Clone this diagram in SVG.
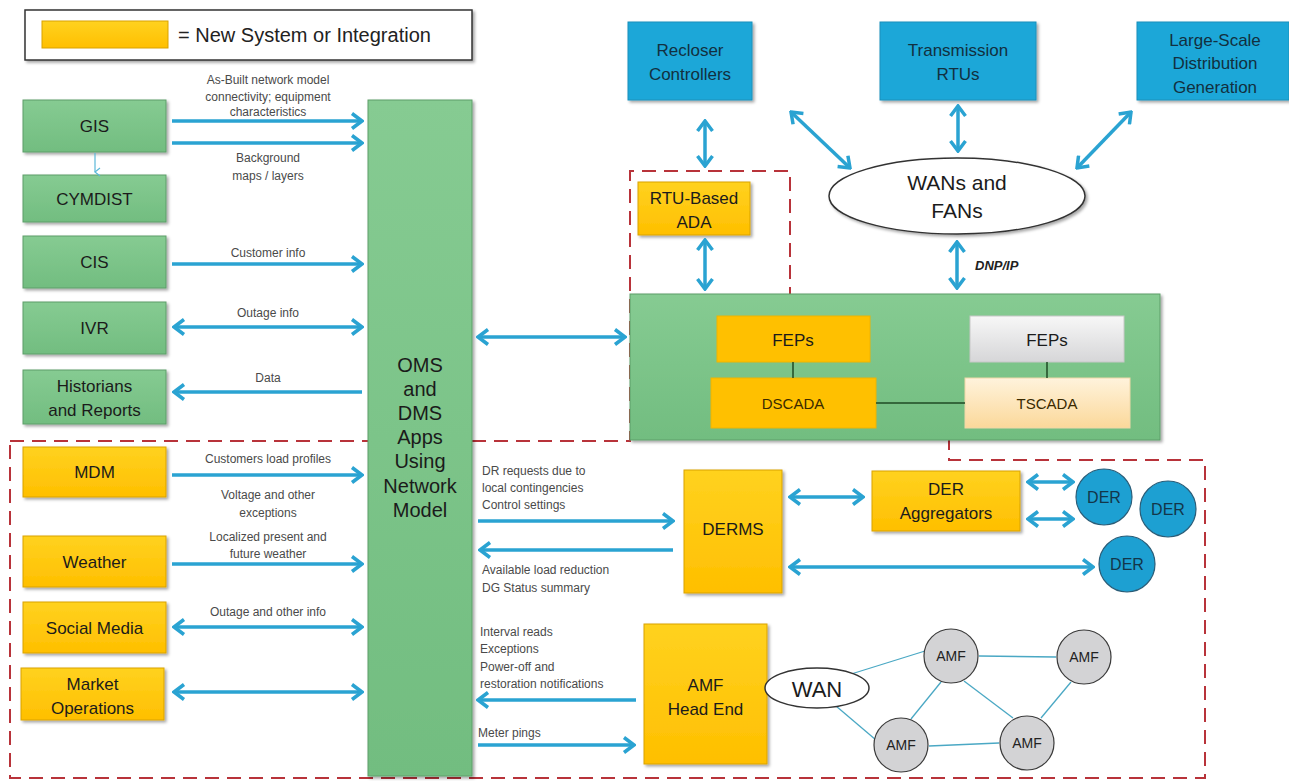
<svg xmlns="http://www.w3.org/2000/svg" width="1289" height="781" viewBox="0 0 1289 781">
<defs>
<filter id="sh" x="-10%" y="-10%" width="130%" height="130%"><feDropShadow dx="2" dy="2" stdDeviation="1.5" flood-color="#000" flood-opacity="0.35"/></filter>
<linearGradient id="yg" x1="0" y1="0" x2="0" y2="1"><stop offset="0" stop-color="#ffd21f"/><stop offset="1" stop-color="#ffbf00"/></linearGradient>
<linearGradient id="gg" x1="0" y1="0" x2="0" y2="1"><stop offset="0" stop-color="#86cb92"/><stop offset="1" stop-color="#72bd80"/></linearGradient>
<linearGradient id="tg" x1="0" y1="0" x2="0" y2="1"><stop offset="0" stop-color="#fff3dc"/><stop offset="1" stop-color="#fbd89a"/></linearGradient>
<linearGradient id="fg" x1="0" y1="0" x2="0" y2="1"><stop offset="0" stop-color="#f7f7f7"/><stop offset="1" stop-color="#d6d6d8"/></linearGradient>
<marker id="ah" markerUnits="userSpaceOnUse" viewBox="0 0 14 18" markerWidth="14" markerHeight="18" refX="12" refY="9" orient="auto-start-reverse"><path d="M2,1.5 L12,9 L2,16.5" fill="none" stroke="#2aa3d2" stroke-width="3.5" stroke-linejoin="miter"/></marker>
<marker id="ahs" markerUnits="userSpaceOnUse" viewBox="0 0 10 10" markerWidth="10" markerHeight="10" refX="5" refY="8" orient="auto"><path d="M1,3 L5,8 L9,3" fill="none" stroke="#5bb8d8" stroke-width="1.2"/></marker>
</defs>
<style>
text{font-family:"Liberation Sans",Arial,sans-serif}
.g{fill:url(#gg);stroke:#5d9e68;stroke-width:1;filter:url(#sh)}
.y{fill:url(#yg);stroke:#d9a200;stroke-width:1;filter:url(#sh)}
.b{fill:#1da7d8;stroke:#1890bb;stroke-width:1;filter:url(#sh)}
.bt{font-size:17px;fill:#1b1b1b;text-anchor:middle}
.ct{font-size:17px;fill:#123040;text-anchor:middle}
.lb{font-size:12px;fill:#4a4a4a;text-anchor:middle}
.ll{font-size:12px;fill:#4a4a4a}
.ar{stroke:#2aa3d2;stroke-width:3.5;fill:none}
.one{marker-end:url(#ah)}
.two{marker-start:url(#ah);marker-end:url(#ah)}
.dash{fill:none;stroke:#b8333a;stroke-width:2;stroke-dasharray:14 8}
.thin{stroke:#4aa8c4;stroke-width:1.3;fill:none}
.amf{fill:#d3d3d5;stroke:#3a3a3a;stroke-width:1.2}
.der{fill:#1da0d2;stroke:#2a5d78;stroke-width:1.2}
.dt{font-size:16px;fill:#13364a;text-anchor:middle}
</style>

<g id="legend">
<rect x="25" y="10" width="447" height="50" fill="#fff" stroke="#333" stroke-width="1.5" filter="url(#sh)"/>
<rect x="42" y="21" width="126" height="27" fill="url(#yg)" stroke="#d9a200"/>
<text x="178" y="42" font-size="20" fill="#222">= New System or Integration</text>
</g>

<g id="red-boundary">
<path class="dash" d="M10,441 L630,441 L630,171 L790,171 L790,300 L949,300 L949,460 L1205,460 L1205,778 L10,778 Z"/>
</g>

<g id="gis"><rect class="g" x="23" y="100" width="143" height="52"/><text class="bt" x="94.5" y="132">GIS</text></g>
<g id="cymdist"><rect class="g" x="23" y="175" width="143" height="47"/><text class="bt" x="94.5" y="205">CYMDIST</text></g>
<g id="cis"><rect class="g" x="23" y="236" width="143" height="52"/><text class="bt" x="94.5" y="268">CIS</text></g>
<g id="ivr"><rect class="g" x="23" y="302" width="143" height="52"/><text class="bt" x="94.5" y="334">IVR</text></g>
<g id="historians"><rect class="g" x="23" y="370" width="143" height="54"/><text class="bt" x="94.5" y="392">Historians</text><text class="bt" x="94.5" y="416">and Reports</text></g>

<g id="mdm"><rect class="y" x="23" y="447" width="143" height="50"/><text class="bt" x="94.5" y="478">MDM</text></g>
<g id="weather"><rect class="y" x="23" y="536" width="143" height="51"/><text class="bt" x="94.5" y="568">Weather</text></g>
<g id="social"><rect class="y" x="23" y="602" width="143" height="51"/><text class="bt" x="94.5" y="634">Social Media</text></g>
<g id="market"><rect class="y" x="21" y="668" width="143" height="52"/><text class="bt" x="92.5" y="690">Market</text><text class="bt" x="92.5" y="714">Operations</text></g>

<g id="oms"><rect class="g" x="368" y="100" width="104" height="676"/>
<text font-size="20" fill="#1b1b1b" text-anchor="middle"><tspan x="420" y="372">OMS</tspan><tspan x="420" y="396">and</tspan><tspan x="420" y="420">DMS</tspan><tspan x="420" y="444">Apps</tspan><tspan x="420" y="468">Using</tspan><tspan x="420" y="493">Network</tspan><tspan x="420" y="517">Model</tspan></text></g>

<g id="recloser"><rect class="b" x="628" y="22" width="124" height="78"/><text class="ct" x="690" y="56">Recloser</text><text class="ct" x="690" y="80">Controllers</text></g>
<g id="trtu"><rect class="b" x="880" y="22" width="156" height="78"/><text class="ct" x="958" y="56">Transmission</text><text class="ct" x="958" y="80">RTUs</text></g>
<g id="lsdg"><rect class="b" x="1137" y="22" width="152" height="78"/><text class="ct" x="1215" y="46">Large-Scale</text><text class="ct" x="1215" y="69">Distribution</text><text class="ct" x="1215" y="93">Generation</text></g>

<g id="wans"><ellipse cx="957" cy="196" rx="128" ry="38" fill="#fff" stroke="#333" stroke-width="1.5" filter="url(#sh)"/><text x="957" y="190" font-size="21" fill="#1b1b1b" text-anchor="middle">WANs and</text><text x="957" y="218" font-size="21" fill="#1b1b1b" text-anchor="middle">FANs</text></g>

<g id="rtuada"><rect class="y" x="638" y="182" width="112" height="53"/><text class="bt" x="694" y="204">RTU-Based</text><text class="bt" x="694" y="228">ADA</text></g>

<g id="scada"><rect class="g" x="630" y="294" width="530" height="146"/>
<rect x="717" y="316" width="153" height="46" fill="#ffc000" stroke="#f0b400"/><text class="bt" x="793" y="346" font-size="17">FEPs</text>
<rect x="711" y="378" width="165" height="50" fill="#ffc000" stroke="#f0b400"/><text x="793" y="409" font-size="15" fill="#3a2a00" text-anchor="middle">DSCADA</text>
<rect x="970" y="316" width="154" height="46" fill="url(#fg)" stroke="#c8c8c8"/><text class="bt" x="1047" y="346">FEPs</text>
<rect x="965" y="378" width="165" height="50" fill="url(#tg)" stroke="#f0d8a8"/><text x="1047" y="409" font-size="15" fill="#3a2a00" text-anchor="middle">TSCADA</text>
<line x1="793" y1="362" x2="793" y2="378" stroke="#1f4a24" stroke-width="1.5"/>
<line x1="1047" y1="362" x2="1047" y2="378" stroke="#1f4a24" stroke-width="1.5"/>
<line x1="876" y1="403" x2="965" y2="403" stroke="#1f4a24" stroke-width="1.5"/>
</g>

<g id="derms"><rect class="y" x="684" y="470" width="98" height="123"/><text class="bt" x="733" y="535">DERMS</text></g>
<g id="deragg"><rect class="y" x="872" y="471" width="148" height="60"/><text class="bt" x="946" y="495">DER</text><text class="bt" x="946" y="519">Aggregators</text></g>
<g id="der1"><circle class="der" cx="1104" cy="497" r="28"/><text class="dt" x="1104" y="503">DER</text></g>
<g id="der2"><circle class="der" cx="1168" cy="509" r="28"/><text class="dt" x="1168" y="515">DER</text></g>
<g id="der3"><circle class="der" cx="1127" cy="564" r="28"/><text class="dt" x="1127" y="570">DER</text></g>

<g id="amfhe"><rect class="y" x="644" y="624" width="123" height="140"/><text class="bt" x="705.5" y="691">AMF</text><text class="bt" x="705.5" y="715">Head End</text></g>

<g id="amf-net">
<line class="thin" x1="848" y1="675" x2="925" y2="651"/>
<line class="thin" x1="836" y1="706" x2="876" y2="740"/>
<line class="thin" x1="979" y1="656" x2="1056" y2="657"/>
<line class="thin" x1="941" y1="682" x2="911" y2="719"/>
<line class="thin" x1="964" y1="681" x2="1013" y2="718"/>
<line class="thin" x1="1071" y1="682" x2="1041" y2="718"/>
<line class="thin" x1="929" y1="746" x2="999" y2="743"/>
</g>
<g id="wan"><ellipse cx="817" cy="688" rx="52" ry="20" fill="#fff" stroke="#333" stroke-width="1.5"/><text x="817" y="697" font-size="22" fill="#1b1b1b" text-anchor="middle">WAN</text></g>
<g id="amf1"><circle class="amf" cx="951" cy="656" r="27"/><text x="951" y="661" font-size="14" fill="#222" text-anchor="middle">AMF</text></g>
<g id="amf2"><circle class="amf" cx="1084" cy="657" r="27"/><text x="1084" y="662" font-size="14" fill="#222" text-anchor="middle">AMF</text></g>
<g id="amf3"><circle class="amf" cx="901" cy="745" r="27"/><text x="901" y="750" font-size="14" fill="#222" text-anchor="middle">AMF</text></g>
<g id="amf4"><circle class="amf" cx="1027" cy="743" r="27"/><text x="1027" y="748" font-size="14" fill="#222" text-anchor="middle">AMF</text></g>

<g id="connectors">
<line x1="95" y1="153" x2="95" y2="172" stroke="#5bb8d8" stroke-width="1.2" marker-end="url(#ahs)"/>
<line class="ar one" x1="172" y1="121" x2="362" y2="121"/>
<line class="ar one" x1="172" y1="143" x2="362" y2="143"/>
<line class="ar one" x1="172" y1="264" x2="362" y2="264"/>
<line class="ar two" x1="174" y1="327" x2="362" y2="327"/>
<line class="ar one" x1="362" y1="392" x2="174" y2="392"/>
<line class="ar one" x1="172" y1="475" x2="362" y2="475"/>
<line class="ar one" x1="172" y1="564" x2="362" y2="564"/>
<line class="ar two" x1="174" y1="627" x2="362" y2="627"/>
<line class="ar two" x1="174" y1="692" x2="362" y2="692"/>
<line class="ar two" x1="478" y1="337" x2="625" y2="337"/>
<line class="ar two" x1="705" y1="121" x2="705" y2="166"/>
<line class="ar two" x1="705" y1="240" x2="705" y2="289"/>
<line class="ar two" x1="791" y1="112" x2="850" y2="168"/>
<line class="ar two" x1="958" y1="106" x2="958" y2="151"/>
<line class="ar two" x1="1131" y1="112" x2="1077" y2="168"/>
<line class="ar two" x1="957" y1="242" x2="957" y2="288"/>
<line class="ar one" x1="478" y1="521" x2="673" y2="521"/>
<line class="ar one" x1="673" y1="550" x2="480" y2="550"/>
<line class="ar two" x1="790" y1="497" x2="863" y2="497"/>
<line class="ar two" x1="1028" y1="482" x2="1073" y2="482"/>
<line class="ar two" x1="1028" y1="519" x2="1073" y2="519"/>
<line class="ar two" x1="790" y1="567" x2="1093" y2="567"/>
<line class="ar one" x1="636" y1="700" x2="478" y2="700"/>
<line class="ar one" x1="478" y1="745" x2="634" y2="745"/>
</g>

<g id="labels">
<text class="lb" x="268" y="84">As-Built network model</text>
<text class="lb" x="268" y="101">connectivity; equipment</text>
<text class="lb" x="268" y="116">characteristics</text>
<text class="lb" x="268" y="162">Background</text>
<text class="lb" x="268" y="180">maps / layers</text>
<text class="lb" x="268" y="257">Customer info</text>
<text class="lb" x="268" y="317">Outage info</text>
<text class="lb" x="268" y="382">Data</text>
<text class="lb" x="268" y="463">Customers load profiles</text>
<text class="lb" x="268" y="499">Voltage and other</text>
<text class="lb" x="268" y="517">exceptions</text>
<text class="lb" x="268" y="541">Localized present and</text>
<text class="lb" x="268" y="558">future weather</text>
<text class="lb" x="268" y="616">Outage and other info</text>
<text x="975" y="270" font-size="13" font-weight="bold" font-style="italic" fill="#222">DNP/IP</text>
<text class="ll" x="482" y="475">DR requests due to</text>
<text class="ll" x="482" y="492">local contingencies</text>
<text class="ll" x="482" y="509">Control settings</text>
<text class="ll" x="482" y="574">Available load reduction</text>
<text class="ll" x="482" y="592">DG Status summary</text>
<text class="ll" x="480" y="636">Interval reads</text>
<text class="ll" x="480" y="653">Exceptions</text>
<text class="ll" x="480" y="671">Power-off and</text>
<text class="ll" x="480" y="688">restoration notifications</text>
<text class="ll" x="478" y="737">Meter pings</text>
</g>
</svg>
